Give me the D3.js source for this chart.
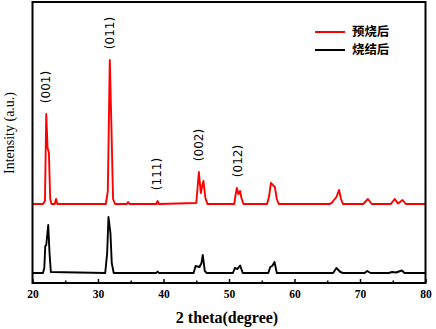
<!DOCTYPE html>
<html>
<head>
<meta charset="utf-8">
<script src="https://cdn.jsdelivr.net/npm/d3@7"></script>
<style>
    body { margin: 0; background: #fff; }
    svg { display: block; }
</style>
</head>
<body>
<svg id="chart" width="436" height="329"></svg>
<script>
// 2theta (degree) and intensity (a.u.) points
const preTheta = [20, 21.6, 21.9, 22.1, 22.3, 22.5, 22.7, 22.9, 23.4, 23.6, 23.8, 31.2, 31.5, 31.8, 32.0, 32.3, 32.6, 34.4, 34.6, 34.8, 38.9, 39.1, 39.3, 45.0, 45.2, 45.4, 45.7, 45.9, 46.1, 46.4, 46.7, 50.8, 51.0, 51.2, 51.45, 51.7, 51.9, 52.2, 55.8, 56.1, 56.4, 56.7, 57.0, 57.3, 57.6, 65.3, 65.7, 65.9, 66.4, 66.8, 67.1, 67.4, 70.5, 71.2, 71.8, 74.7, 75.3, 75.8, 76.5, 77.0, 80];
const preIntensity = [79, 79, 82, 169, 135, 131, 84, 79, 79, 84, 79, 79, 92, 223, 170, 84, 79, 79, 81, 79, 79, 82, 79, 80, 95, 111, 90, 97, 102, 85, 79, 79, 88, 95, 89, 92, 85, 79, 79, 86, 100, 98, 96, 84, 79, 79, 80, 82, 86, 93, 84, 79, 79, 84, 79, 79, 84, 79.5, 83, 79, 79];

const sinTheta = [20, 21.6, 21.8, 21.95, 22.1, 22.4, 22.6, 22.8, 31.1, 31.4, 31.6, 31.9, 32.1, 32.4, 38.9, 39.1, 39.3, 44.6, 44.9, 45.5, 45.8, 46.0, 46.3, 46.6, 50.6, 50.9, 51.3, 51.7, 52.1, 56.0, 56.3, 56.6, 56.95, 57.3, 65.9, 66.4, 67.0, 67.4, 70.7, 71.1, 71.6, 74.4, 74.9, 75.5, 76.4, 76.8, 80];
const sinIntensity = [10, 10, 15, 37, 38, 58, 30, 11, 10, 30, 66, 50, 20, 10, 10, 11.5, 10, 10, 17, 16, 20, 28, 12, 10, 10, 15, 14, 17.5, 10, 10, 16, 17, 21, 10, 10, 15, 11, 10, 10, 12, 10, 10, 11, 10.5, 12.5, 10, 10];

const seriesNames = ['预烧后', '烧结后'];
const seriesColors = ['#ff0000', '#000000'];

const peakLabels = ['(001)', '(011)', '(111)', '(002)', '(012)'];
const peakLabelTheta = [22.0, 31.8, 39.0, 45.4, 51.4];
const peakLabelIntensity = [196, 250, 109, 138, 122];

const xTicks = [20, 30, 40, 50, 60, 70, 80];
const xMinorTicks = [25, 35, 45, 55, 65, 75];

const svg = d3.select('#chart');
const margin = { left: 32.5, right: 10.5, top: 2, bottom: 46 };
const width = 436, height = 329;

const x = d3.scaleLinear()
    .domain([20, 80])
    .range([margin.left, width - margin.right]);

const y = d3.scaleLinear()
    .domain([0, 281])
    .range([height - margin.bottom, margin.top]);

const line = d3.line()
    .x((d) => x(d[0]))
    .y((d) => y(d[1]));

const series = [
    d3.zip(preTheta, preIntensity),
    d3.zip(sinTheta, sinIntensity)
];

svg.selectAll('path.trace')
    .data(series)
    .join('path')
    .attr('class', 'trace')
    .attr('d', line)
    .attr('fill', 'none')
    .attr('stroke', (d, i) => seriesColors[i])
    .attr('stroke-width', 1.9)
    .attr('stroke-linejoin', 'round');

// frame
svg.append('rect')
    .attr('x', margin.left)
    .attr('y', margin.top)
    .attr('width', width - margin.right - margin.left)
    .attr('height', height - margin.bottom - margin.top)
    .attr('fill', 'none')
    .attr('stroke', '#000')
    .attr('stroke-width', 2);

// x axis
const xAxis = svg.append('g')
    .attr('transform', `translate(0,${height - margin.bottom})`)
    .call(d3.axisBottom(x).tickValues(xTicks).tickSizeInner(-4).tickSizeOuter(0).tickPadding(7));
xAxis.select('.domain').remove();
xAxis.selectAll('line').attr('stroke-width', 1.5);
xAxis.selectAll('text')
    .attr('font-family', '"Liberation Serif", serif')
    .attr('font-weight', 'bold')
    .attr('font-size', 11.5)
    .attr('fill', '#000');

const minorAxis = svg.append('g')
    .attr('transform', `translate(0,${height - margin.bottom})`)
    .call(d3.axisBottom(x).tickValues(xMinorTicks).tickSize(-2.5).tickFormat(''));
minorAxis.select('.domain').remove();
minorAxis.selectAll('line').attr('stroke-width', 1.5);

// axis titles
svg.append('text')
    .attr('x', 227)
    .attr('y', 323)
    .attr('text-anchor', 'middle')
    .attr('font-family', '"Liberation Serif", serif')
    .attr('font-weight', 'bold')
    .attr('font-size', 16)
    .text('2 theta(degree)');

svg.append('text')
    .attr('transform', 'translate(14,133) rotate(-90)')
    .attr('text-anchor', 'middle')
    .attr('font-family', '"Liberation Serif", serif')
    .attr('font-size', 14)
    .text('Intensity (a.u.)');

// peak indices
svg.selectAll('text.peak')
    .data(peakLabels)
    .join('text')
    .attr('class', 'peak')
    .attr('transform', (d, i) =>
        `translate(${x(peakLabelTheta[i])},${y(peakLabelIntensity[i])}) rotate(-90)`)
    .attr('text-anchor', 'middle')
    .attr('dy', '0.35em')
    .attr('font-family', '"DejaVu Sans", sans-serif')
    .attr('font-size', 12)
    .text((d) => d);

// legend
const legend = svg.append('g').attr('transform', 'translate(315,32)');
const items = legend.selectAll('g')
    .data(seriesNames)
    .join('g')
    .attr('transform', (d, i) => `translate(0,${i * 18})`);
items.append('line')
    .attr('x1', 0)
    .attr('x2', 30)
    .attr('stroke', (d, i) => seriesColors[i])
    .attr('stroke-width', 2);
items.append('text')
    .attr('x', 37)
    .attr('dy', '0.35em')
    .attr('font-family', '"Noto Sans CJK SC", sans-serif')
    .attr('font-weight', 'bold')
    .attr('font-size', 12.4)
    .text((d) => d);
</script>
</body>
</html>
